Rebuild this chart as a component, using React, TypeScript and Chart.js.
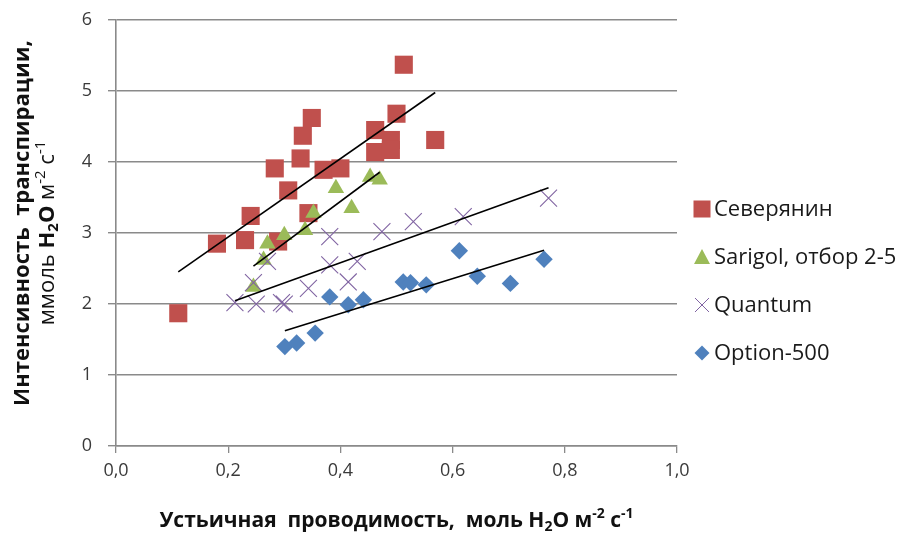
import React, { useEffect, useRef } from 'react';
import { Chart, registerables } from 'chart.js';

Chart.register(...registerables);

// ---------- data ----------
const seriesNames = ['Северянин', 'Sarigol, отбор 2-5', 'Quantum', 'Option-500'];

const severyaninX = [0.111, 0.18, 0.23, 0.24, 0.289, 0.343, 0.307, 0.283, 0.329, 0.333, 0.349, 0.37, 0.40, 0.462, 0.462, 0.49, 0.49, 0.50, 0.513, 0.569];
const severyaninY = [1.87, 2.85, 2.90, 3.24, 2.88, 3.28, 3.60, 3.91, 4.05, 4.37, 4.62, 3.89, 3.91, 4.45, 4.14, 4.31, 4.17, 4.68, 5.37, 4.31];

const sarigolX = [0.245, 0.263, 0.27, 0.30, 0.337, 0.352, 0.392, 0.42, 0.453, 0.47];
const sarigolY = [2.24, 2.62, 2.85, 2.97, 3.04, 3.28, 3.63, 3.35, 3.79, 3.75];

const quantumX = [0.212, 0.25, 0.295, 0.30, 0.245, 0.27, 0.343, 0.381, 0.414, 0.43, 0.381, 0.474, 0.53, 0.619, 0.771];
const quantumY = [2.02, 2.00, 2.02, 2.00, 2.30, 2.60, 2.22, 2.55, 2.31, 2.60, 2.95, 3.02, 3.16, 3.23, 3.49];

const optionX = [0.301, 0.322, 0.355, 0.381, 0.414, 0.441, 0.512, 0.525, 0.553, 0.612, 0.644, 0.703, 0.763];
const optionY = [1.40, 1.45, 1.59, 2.10, 1.99, 2.06, 2.31, 2.30, 2.27, 2.75, 2.39, 2.29, 2.63];

const xTickValues = [0, 0.2, 0.4, 0.6, 0.8, 1.0];
const xTickLabels = ['0,0', '0,2', '0,4', '0,6', '0,8', '1,0'];
const yTickValues = [0, 1, 2, 3, 4, 5, 6];
const yTickLabels = ['0', '1', '2', '3', '4', '5', '6'];

const xTitle = 'Устьичная  проводимость,  моль H₂O м⁻² с⁻¹';
const yTitleLine1 = 'Интенсивность  транспирации,';
const yTitleLine2 = 'ммоль H₂O м⁻² с⁻¹';

// ---------- styles ----------
const COLORS = ['#C0504D', '#9BBB59', '#8064A2', '#4F81BD'];
const FONT = '"Open Sans", "Noto Sans", sans-serif';
const GRID = '#8a8a8a';

type Run = { t: string; bold?: boolean; sub?: boolean; sup?: boolean };

// Split a title into runs: chemistry letters (H, O and the subscript) bold,
// superscripts / subscripts drawn small and shifted.
function buildTitleRuns(text: string, wordsBold: boolean): Run[] {
  const subMap: Record<string, string> = { '₂': '2' };
  const supMap: Record<string, string> = { '⁻': '-', '²': '2', '¹': '1' };
  const runs: Run[] = [];
  let cur: Run | null = null;
  for (const ch of text) {
    let r: Run;
    if (subMap[ch]) r = { t: subMap[ch], sub: true, bold: true };
    else if (supMap[ch]) r = { t: supMap[ch], sup: true, bold: wordsBold };
    else if (ch === 'H' || ch === 'O') r = { t: ch, bold: true };
    else r = { t: ch, bold: wordsBold };
    if (cur && !!cur.sub === !!r.sub && !!cur.sup === !!r.sup && !!cur.bold === !!r.bold) cur.t += r.t;
    else { cur = r; runs.push(cur); }
  }
  return runs;
}

function drawRuns(ctx: CanvasRenderingContext2D, runs: Run[], cx: number, cy: number, size: number, color: string) {
  const fontFor = (r: Run) => {
    const s = r.sub || r.sup ? Math.round(size * 0.68) : size;
    return `${r.bold ? 'bold ' : ''}${s}px ${FONT}`;
  };
  const widths = runs.map((r) => {
    ctx.font = fontFor(r);
    return ctx.measureText(r.t).width;
  });
  const total = widths.reduce((a, b) => a + b, 0);
  let x = cx - total / 2;
  ctx.fillStyle = color;
  ctx.textAlign = 'left';
  ctx.textBaseline = 'middle';
  runs.forEach((r, i) => {
    ctx.font = fontFor(r);
    const dy = r.sub ? size * 0.28 : r.sup ? -size * 0.33 : 0;
    ctx.fillText(r.t, x, cy + dy);
    x += widths[i];
  });
}

function regression(xs: number[], ys: number[]) {
  const n = xs.length;
  const mx = xs.reduce((a, b) => a + b, 0) / n;
  const my = ys.reduce((a, b) => a + b, 0) / n;
  let sxy = 0, sxx = 0;
  for (let i = 0; i < n; i++) {
    sxy += (xs[i] - mx) * (ys[i] - my);
    sxx += (xs[i] - mx) * (xs[i] - mx);
  }
  const b = sxy / sxx;
  const a = my - b * mx;
  const x0 = Math.min(...xs), x1 = Math.max(...xs);
  return [{ x: x0, y: a + b * x0 }, { x: x1, y: a + b * x1 }];
}

function drawMarker(ctx: CanvasRenderingContext2D, kind: number, x: number, y: number) {
  ctx.save();
  ctx.fillStyle = COLORS[kind];
  ctx.strokeStyle = COLORS[kind];
  if (kind === 0) {
    ctx.fillRect(x - 8.5, y - 8.5, 17, 17);
  } else if (kind === 1) {
    ctx.beginPath();
    ctx.moveTo(x, y - 8);
    ctx.lineTo(x + 8, y + 7);
    ctx.lineTo(x - 8, y + 7);
    ctx.closePath();
    ctx.fill();
  } else if (kind === 2) {
    ctx.lineWidth = 1;
    ctx.beginPath();
    ctx.moveTo(x - 7, y - 7);
    ctx.lineTo(x + 7, y + 7);
    ctx.moveTo(x + 7, y - 7);
    ctx.lineTo(x - 7, y + 7);
    ctx.stroke();
  } else {
    ctx.beginPath();
    ctx.moveTo(x, y - 7.5);
    ctx.lineTo(x + 7.5, y);
    ctx.lineTo(x, y + 7.5);
    ctx.lineTo(x - 7.5, y);
    ctx.closePath();
    ctx.fill();
  }
  ctx.restore();
}

const decorPlugin = {
  id: 'decor',
  afterDraw(chart: any) {
    const ctx: CanvasRenderingContext2D = chart.ctx;
    const area = chart.chartArea;
    ctx.save();
    // legend
    const lx = 702;
    const ly0 = 209;
    const step = 48;
    seriesNames.forEach((name, i) => {
      const y = ly0 + i * step;
      drawMarker(ctx, i, lx, y);
      ctx.font = `22px ${FONT}`;
      ctx.fillStyle = '#1a1a1a';
      ctx.textAlign = 'left';
      ctx.textBaseline = 'middle';
      ctx.fillText(name, lx + 12, y + 1);
    });
    // x title
    const cx = (area.left + area.right) / 2;
    drawRuns(ctx, buildTitleRuns(xTitle, true), cx, 521, 21, '#111');
    // y title
    const cy = (area.top + area.bottom) / 2;
    ctx.save();
    ctx.translate(23, cy);
    ctx.rotate(-Math.PI / 2);
    drawRuns(ctx, [{ t: yTitleLine1, bold: true }], 10, 0, 22, '#111');
    ctx.restore();
    ctx.save();
    ctx.translate(48, cy);
    ctx.rotate(-Math.PI / 2);
    drawRuns(ctx, buildTitleRuns(yTitleLine2, false), 0, 0, 22, '#111');
    ctx.restore();
    ctx.restore();
  },
};

export default function App() {
  const ref = useRef<HTMLCanvasElement>(null);
  useEffect(() => {
    document.body.style.margin = '0';
    const canvas = ref.current!;
    const xs = [severyaninX, sarigolX, quantumX, optionX];
    const ys = [severyaninY, sarigolY, quantumY, optionY];
    const styles: any[] = [
      { pointStyle: 'rect', pointRadius: 12.8, borderWidth: 0 },
      { pointStyle: 'triangle', pointRadius: 9.5, borderWidth: 0 },
      { pointStyle: 'crossRot', pointRadius: 12, borderWidth: 1.1 },
      { pointStyle: 'rectRot', pointRadius: 8.7, borderWidth: 0 },
    ];
    const scatterSets = seriesNames.map((name, i) => ({
      type: 'scatter' as const,
      label: name,
      data: xs[i].map((x, j) => ({ x, y: ys[i][j] })),
      backgroundColor: COLORS[i],
      borderColor: COLORS[i],
      pointStyle: styles[i].pointStyle,
      pointRadius: styles[i].pointRadius,
      pointHoverRadius: styles[i].pointRadius,
      pointBorderWidth: styles[i].borderWidth,
      order: 10 - i,
    }));
    const trendSets = seriesNames.map((name, i) => ({
      type: 'line' as const,
      label: name + ' trend',
      data: regression(xs[i], ys[i]),
      borderColor: '#000',
      borderWidth: 1.6,
      pointRadius: 0,
      fill: false,
      showLine: true,
      order: 0,
    }));

    const chart = new Chart(canvas, {
      type: 'scatter',
      data: { datasets: [...scatterSets, ...trendSets] as any },
      options: {
        animation: false,
        responsive: false,
        layout: { padding: { left: 0, top: 20, right: 230, bottom: 0 } },
        plugins: { legend: { display: false }, tooltip: { enabled: false } },
        scales: {
          x: {
            type: 'linear',
            min: 0,
            max: 1,
            afterFit: (s: any) => { s.height = 87; s.paddingLeft = 0; s.paddingRight = 0; },
            afterBuildTicks: (s: any) => { s.ticks = xTickValues.map((v) => ({ value: v })); },
            ticks: {
              callback: (_v: any, i: number) => xTickLabels[i],
              font: { family: FONT, size: 18 },
              color: '#3a3a3a',
              padding: 7,
              maxRotation: 0,
            },
            grid: { display: true, drawOnChartArea: false, drawTicks: true, tickLength: 7, color: GRID, lineWidth: 1.3 },
            border: { display: true, color: GRID, width: 1.6 },
          },
          y: {
            type: 'linear',
            min: 0,
            max: 6,
            afterFit: (s: any) => { s.width = 116; s.paddingTop = 0; s.paddingBottom = 0; },
            afterBuildTicks: (s: any) => { s.ticks = yTickValues.map((v) => ({ value: v })); },
            ticks: {
              callback: (_v: any, i: number) => yTickLabels[i],
              font: { family: FONT, size: 18 },
              color: '#3a3a3a',
              padding: 16,
            },
            grid: { display: true, drawTicks: true, tickLength: 8, color: GRID, lineWidth: 1.4 },
            border: { display: true, color: GRID, width: 1.6 },
          },
        },
      },
      plugins: [decorPlugin],
    } as any);
    return () => chart.destroy();
  }, []);
  return (
    <div style={{ width: 907, height: 533, background: '#fff' }}>
      <canvas ref={ref} width={907} height={533} style={{ display: 'block', width: 907, height: 533 }} />
    </div>
  );
}
